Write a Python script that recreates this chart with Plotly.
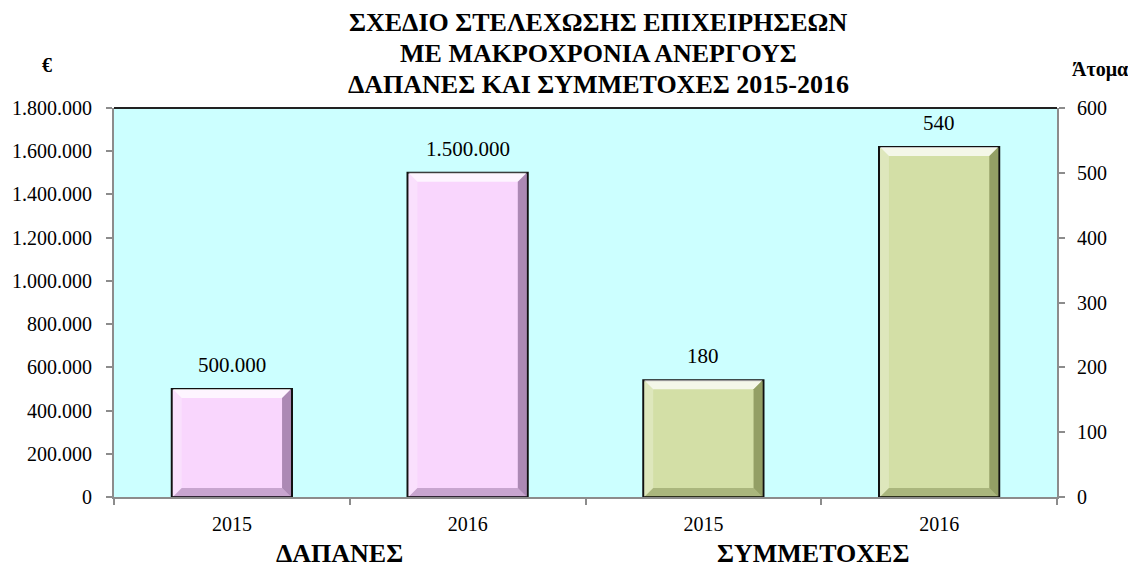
import plotly.graph_objects as go

# ---- data ----
years = ["2015", "2016", "2015", "2016"]
spend_pos = [0, 1]
spend_values = [500000, 1500000]
part_pos = [2, 3]
part_values = [180, 540]
group_labels = ["ΔΑΠΑΝΕΣ", "ΣΥΜΜΕΤΟΧΕΣ"]
title_lines = ["ΣΧΕΔΙΟ ΣΤΕΛΕΧΩΣΗΣ ΕΠΙΧΕΙΡΗΣΕΩΝ", "ΜΕ ΜΑΚΡΟΧΡΟΝΙΑ ΑΝΕΡΓΟΥΣ", "ΔΑΠΑΝΕΣ ΚΑΙ ΣΥΜΜΕΤΟΧΕΣ 2015-2016"]
left_unit = "€"
right_unit = "Άτομα"

FONT = "Times New Roman"
PINK = "#F9D6FD"
GREEN = "#D3DFA6"
BG = "#CCFFFF"
BAR_W = 0.51

# page offset (body margin) and target plot area in screen px
OFF = 8
W, H = 1120, 560
PL, PR, PT, PB = 114, 1057, 108, 497
L, T = PL - OFF, PT - OFF
R, B = W - (PR - OFF), H - (PB - OFF)
pw, ph = W - L - R, H - T - B
Y1MAX, Y2MAX = 1800000, 600
XMIN, XMAX = -0.5, 3.5

def px2paper(sx, sy):
    return (sx - OFF - L) / pw, (H - B - (sy - OFF)) / ph

def fmt(v):
    return f"{v:,}".replace(",", ".")

fig = go.Figure()
fig.add_trace(go.Bar(x=spend_pos, y=spend_values, width=BAR_W,
                     marker=dict(color=PINK, line=dict(color="#111111", width=2)),
                     yaxis="y", hoverinfo="skip"))
fig.add_trace(go.Bar(x=part_pos, y=part_values, width=BAR_W,
                     marker=dict(color=GREEN, line=dict(color="#111111", width=2)),
                     yaxis="y2", hoverinfo="skip"))

# bevel effect shapes derived from the bar values
shapes = []
bev_px = 9
dx = bev_px * (XMAX - XMIN) / pw
def bevels(xs, vals, yref, ymax, dark):
    dy = bev_px * ymax / ph
    out = []
    for x, v in zip(xs, vals):
        x0, x1 = x - BAR_W / 2 + 0.004, x + BAR_W / 2 - 0.004
        y0, y1 = 0, v
        top = f"M{x0},{y1} L{x1},{y1} L{x1-dx},{y1-dy} L{x0+dx},{y1-dy} Z"
        left = f"M{x0},{y0} L{x0},{y1} L{x0+dx},{y1-dy} L{x0+dx},{y0+dy} Z"
        right = f"M{x1},{y0} L{x1},{y1} L{x1-dx},{y1-dy} L{x1-dx},{y0+dy} Z"
        bot = f"M{x0},{y0} L{x1},{y0} L{x1-dx},{y0+dy} L{x0+dx},{y0+dy} Z"
        for p, c, o in [(top, "white", 0.75), (left, "white", 0.25),
                        (right, dark, 0.55), (bot, dark, 0.35)]:
            out.append(dict(type="path", path=p, xref="x", yref=yref,
                            fillcolor=c, opacity=o, line=dict(width=0), layer="above"))
    return out
shapes += bevels(spend_pos, spend_values, "y", Y1MAX, "#6E4A78")
shapes += bevels(part_pos, part_values, "y2", Y2MAX, "#5E6A30")
shapes.append(dict(type="line", xref="paper", yref="paper", x0=0, x1=1, y0=1, y1=1,
                   line=dict(color="#222222", width=2)))

annotations = []
for x, v in zip(spend_pos, spend_values):
    annotations.append(dict(x=x, y=v, xref="x", yref="y", text=fmt(v), showarrow=False,
                            yshift=24, font=dict(family=FONT, size=21, color="black")))
for x, v in zip(part_pos, part_values):
    annotations.append(dict(x=x, y=v, xref="x", yref="y2", text=fmt(v), showarrow=False,
                            yshift=24, font=dict(family=FONT, size=21, color="black")))

for line, sy in zip(title_lines, [23, 54, 84]):
    tx, ty = px2paper(598, sy)
    annotations.append(dict(x=tx, y=ty, xref="paper", yref="paper", xanchor="center",
                            yanchor="middle", text=f"<b>{line}</b>", showarrow=False,
                            font=dict(family=FONT, size=26, color="black")))
for lab, (sx, sy) in [(left_unit, (47, 65)), (right_unit, (1100, 70))]:
    ux, uy = px2paper(sx, sy)
    annotations.append(dict(x=ux, y=uy, xref="paper", yref="paper", xanchor="center",
                            yanchor="middle", text=f"<b>{lab}</b>", showarrow=False,
                            font=dict(family=FONT, size=20, color="black")))
for cx, lab in zip([339, 813], group_labels):
    gx, gy = px2paper(cx, 553)
    annotations.append(dict(x=gx, y=gy, xref="paper", yref="paper", xanchor="center",
                            yanchor="middle", text=f"<b>{lab}</b>", showarrow=False,
                            font=dict(family=FONT, size=26, color="black")))

fig.update_layout(
    width=W, height=H,
    margin=dict(l=L, r=R, t=T, b=B, autoexpand=False),
    paper_bgcolor="white", plot_bgcolor=BG,
    barmode="overlay", showlegend=False,
    separators=",.",
    font=dict(family=FONT, size=20, color="black"),
    xaxis=dict(range=[XMIN, XMAX], tickmode="array", tickvals=[0, 1, 2, 3], ticktext=years,
               ticks="", showline=True, linecolor="#8C8C8C", linewidth=2, showgrid=False,
               zeroline=False, tickfont=dict(family=FONT, size=20), ticklabelstandoff=8,
               minor=dict(tickmode="array", tickvals=[-0.5, 0.5, 1.5, 2.5, 3.5], ticks="outside",
                          ticklen=6, tickcolor="#8C8C8C", tickwidth=2, showgrid=False)),
    yaxis=dict(range=[0, Y1MAX], dtick=200000, tickformat=",d", ticks="outside", ticklen=6,
               tickcolor="#8C8C8C", tickwidth=2, showline=True, linecolor="#8C8C8C", linewidth=2,
               showgrid=False, zeroline=False, tickfont=dict(family=FONT, size=20),
               ticklabelstandoff=10),
    yaxis2=dict(range=[0, Y2MAX], dtick=100, overlaying="y", side="right", ticks="outside", ticklen=6,
                tickcolor="#8C8C8C", tickwidth=2, showline=True, linecolor="#8C8C8C", linewidth=2,
                showgrid=False, zeroline=False, tickfont=dict(family=FONT, size=20),
                ticklabelstandoff=8),
    annotations=annotations,
    shapes=shapes,
)

fig.write_html("out.html")
